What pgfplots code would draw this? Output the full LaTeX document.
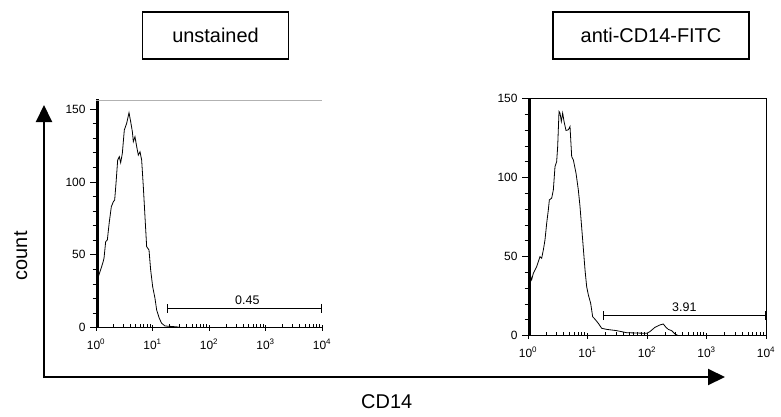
\documentclass[border=0pt]{standalone}
\usepackage{pgfplots}
\pgfplotsset{compat=1.18}
\usepackage{fontspec}
\setmainfont{Liberation Sans}
\usetikzlibrary{arrows.meta}

\newcommand\tkfont{\fontsize{12}{14}\selectfont}
\newcommand\dec[1]{\tkfont 10\textsuperscript{#1}}
\tikzset{gate/.style={line width=1.2bp, {Bar[width=9bp]}-{Bar[width=9bp]}}}

\begin{document}
\begin{tikzpicture}[x=1bp, y=1bp]
\useasboundingbox (0,0) rectangle (781,416);

% panel titles
\node[draw, line width=1.5bp, minimum width=146bp, minimum height=47bp, inner sep=0pt,
  font=\fontsize{20}{24}\selectfont] at (215.5,380.5) {unstained};
\node[draw, line width=1.5bp, minimum width=196bp, minimum height=47bp, inner sep=0pt,
  font=\fontsize{20}{24}\selectfont] at (651,380.5) {anti-CD14-FITC};

% unstained
\begin{axis}[at={(96bp,88.3bp)}, anchor=south west,
  scale only axis, width=226bp, height=227.7bp,
  xmode=log, xmin=1, xmax=10000, ymin=0, ymax=156.2,
  axis x line*=bottom, axis y line*=left,
  xtick={1,10,100,1000,10000},
  xticklabels={\dec{0},\dec{1},\dec{2},\dec{3},\dec{4}},
  minor xtick={2,3,4,5,6,7,8,9,20,30,40,50,60,70,80,90,200,300,400,500,600,700,800,900,2000,3000,4000,5000,6000,7000,8000,9000},
  ytick={0,50,100,150}, minor y tick num=4,
  yticklabel={\tkfont\pgfmathprintnumber{\tick}},
  tick align=outside,
  major tick length=6bp, minor tick length=3.5bp,
  minor x tick style={yshift=3.5bp}, major x tick style={yshift=3bp},
  xticklabel style={yshift=-2bp}, yticklabel style={xshift=-1bp},
  /pgf/number format/assume math mode=true,
  axis line style={line width=0.9bp},
  every tick/.style={black, line width=0.8bp}]
  \addplot[ycomb, no marks, line width=2.8bp] coordinates {(1.0587,300)};
  \addplot[line width=0.8bp] coordinates {
    (1.07,37) (1.10,35.0) (1.177,38.4) (1.312,44.1) (1.386,47.6) (1.483,59.0) (1.587,60.2)
    (1.722,72.7) (1.868,83.0) (2.026,86.4) (2.14,87.6) (2.26,99.0) (2.418,115.0)
    (2.588,117.3) (2.733,113.2) (2.925,119.6) (3.17,135.6) (3.49,140.2) (3.84,147.5)
    (4.11,141.3) (4.40,134.5) (4.58,127.6) (4.90,131.0) (5.25,124.2) (5.61,118.4)
    (6.01,120.7) (6.43,115.0) (6.88,96.7) (7.36,76.2) (7.88,55.6) (8.67,53.3)
    (9.28,39.6) (10.07,28.1) (11.07,20.1) (11.85,12.1) (13.21,6.4) (14.53,3.0)
    (16.64,1.2) (19.05,1.0) (26.8,0.6) (30,0.2) (40,0) (10000,0)};
  \addplot[gate] coordinates {(17.8,13.3) (10000,13.3)}
    node[pos=0.5, above, xshift=3bp, font=\fontsize{12.5}{14}\selectfont] {0.45};
  \draw[gray!60, line width=0.6bp] (rel axis cs:0,1) -- (rel axis cs:1,1);
\end{axis}

% anti-CD14-FITC
\begin{axis}[at={(528bp,80.3bp)}, anchor=south west,
  scale only axis, width=238bp, height=237.2bp,
  xmode=log, xmin=1, xmax=10000, ymin=0, ymax=150,
  xtick={1,10,100,1000,10000},
  xticklabels={\dec{0},\dec{1},\dec{2},\dec{3},\dec{4}},
  minor xtick={2,3,4,5,6,7,8,9,20,30,40,50,60,70,80,90,200,300,400,500,600,700,800,900,2000,3000,4000,5000,6000,7000,8000,9000},
  ytick={0,50,100,150}, minor y tick num=4,
  yticklabel={\tkfont\pgfmathprintnumber{\tick}},
  tick align=outside, xtick pos=left, ytick pos=left,
  major tick length=6bp, minor tick length=3.5bp,
  minor x tick style={yshift=3.5bp}, major x tick style={yshift=3bp},
  xticklabel style={yshift=-2bp}, yticklabel style={xshift=-1bp},
  /pgf/number format/assume math mode=true,
  axis line style={line width=0.9bp},
  every tick/.style={black, line width=0.8bp}]
  \addplot[ycomb, no marks, line width=3bp] coordinates {(1.06,300)};
  \addplot[line width=0.8bp] coordinates {
    (1.10,38) (1.152,35.3) (1.229,39.5) (1.399,43.7) (1.591,50.0) (1.697,49.0) (1.81,54.2)
    (1.93,60.6) (2.06,71.1) (2.196,79.6) (2.283,85.9) (2.50,87.0) (2.666,92.2)
    (2.844,107.0) (3.032,110.1) (3.152,119.6) (3.32,141.8) (3.45,140.8) (3.63,135.5)
    (3.825,140.8) (4.03,135.5) (4.35,129.8) (4.76,130.2) (5.08,132.3) (5.42,113.3)
    (5.78,111.2) (6.41,102.8) (7.01,92.2) (7.48,81.7) (8.29,60.6) (9.08,41.6)
    (9.68,31.0) (10.33,25.8) (11.30,20.5) (12.21,12.0) (13.37,10.4) (15.21,7.8)
    (17.3,4.7) (21.0,4.0) (30.9,3.2) (45.5,1.9) (98.6,1.5) (112,2.6) (136,5.3)
    (165,6.8) (188,7.4) (208,5.3) (228,4.0) (259,3.2) (295,1.1) (336,0) (10000,0)};
  \addplot[gate] coordinates {(18,12.7) (10000,12.7)}
    node[pos=0.5, above, font=\fontsize{12.5}{14}\selectfont] {3.91};
\end{axis}

% common axes
\draw[line width=2bp, -{Triangle[width=16bp,length=17bp]}] (44,38) -- (44,311);
\draw[line width=2bp, -{Triangle[width=16bp,length=17bp]}] (43,39) -- (725,39);
\node[rotate=90, font=\fontsize{20}{24}\selectfont] at (20.7,160.2) {count};
\node[font=\fontsize{20}{24}\selectfont] at (386.7,14.3) {CD14};
\end{tikzpicture}
\end{document}
